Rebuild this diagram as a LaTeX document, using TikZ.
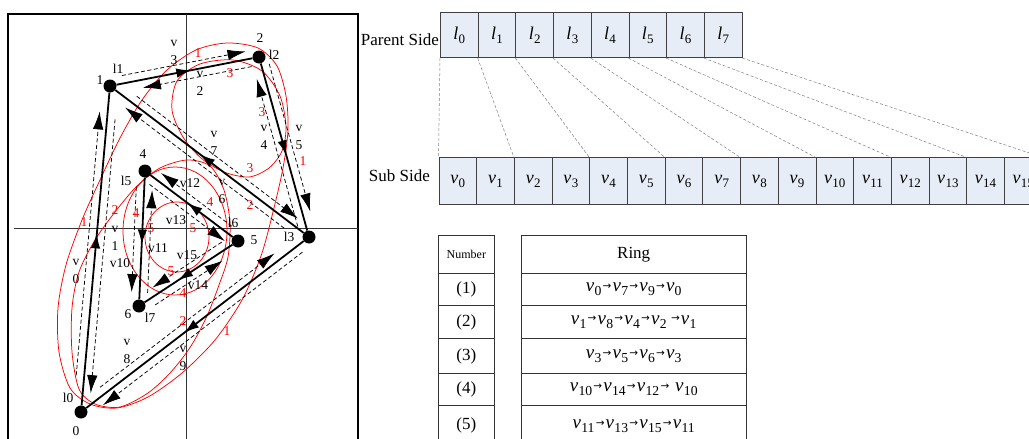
\documentclass[tikz,border=0pt]{standalone}
\usepackage{fontspec}
\setmainfont{Liberation Serif}
\newfontfamily\arrfont{DejaVu Sans}
\usetikzlibrary{calc,arrows.meta,decorations.markings}

\definecolor{boxfill}{RGB}{231,237,246}

% italic letter with a small lowered index
\newcommand\idx[2]{\textit{#1}\kern0.3pt\raisebox{-0.5ex}{\scalebox{0.72}{#2}}}
% small arrow between ring members
\newcommand\ringto{\kern1.2pt\raisebox{0.25ex}{\arrfont\scalebox{0.55}{→}}\kern1.2pt}
% dashed directed arc drawn beside an edge: src, dst, start fraction, end fraction, side angle
\newcommand\darc[5]{\draw[halfarc] ($(#1)!#3!(#2)!8pt!#5:(#2)$) -- ($(#1)!#4!(#2)!8pt!#5:(#2)$);}

\tikzset{
  bigtip/.tip={Latex[length=18pt,width=10.5pt]},
  midtip/.tip={Latex[length=15pt,width=9.5pt]},
  dot/.style={circle,fill=black,inner sep=0pt,minimum size=13pt},
  link/.style={line width=1.8pt, postaction={decorate},
    decoration={markings, mark=at position #1 with {\arrow{midtip}}}},
  link/.default=0.55,
  halfarc/.style={line width=0.75pt, dash pattern=on 4pt off 2.5pt, -bigtip},
  lbl/.style={font=\fontsize{13.5}{18}\selectfont, inner sep=0pt, align=center},
  rlbl/.style={lbl, text=red},
  ringc/.style={red, line width=0.75pt},
  pbox/.style={draw=black!75, fill=boxfill, line width=0.8pt, minimum width=37.7pt,
    minimum height=45.6pt, anchor=north west, inner sep=0pt, font=\fontsize{18}{20}\selectfont},
  sbox/.style={pbox, minimum height=46.7pt},
  guide/.style={black!50, line width=0.5pt, dash pattern=on 3pt off 2pt},
  cell/.style={draw=black!80, line width=0.7pt, anchor=north west, inner sep=0pt},
  side/.style={font=\fontsize{17}{20}\selectfont, inner sep=0pt},
  ringtext/.style={font=\fontsize{19}{22}\selectfont},
}

\begin{document}
\begin{tikzpicture}[x=1pt,y=-1pt]
\useasboundingbox (0,0) rectangle (1029,439);
\fill[white] (0,0) rectangle (1029,439);
\clip (0,0) rectangle (1029,439);

% ---------- left panel: frame and axes ----------
\draw[line width=2.6pt] (8,450) |- (358,14) -- (358,450);
\draw[line width=0.9pt, black!80] (186.7,14) -- (186.7,450);
\draw[line width=0.9pt, black!80] (14,228.5) -- (358,228.5);

% ---------- rings ----------
\draw[ringc] plot[smooth cycle] coordinates {(227,43) (258,48) (277,66) (286,96) (288,130) (283,168) (273,212) (261,256) (242,300) (215,340) (182,373) (148,397) (117,408) (90,404) (70,388) (59,352) (58,308) (66,265) (82,220) (100,180) (120,138) (142,100) (167,70) (196,50)};
\draw[ringc] plot[smooth cycle] coordinates {(187,160) (210,166) (224,190) (230,223) (228,257) (219,285) (207,316) (191,346) (171,372) (148,393) (120,407) (95,404) (79,389) (72,352) (72,308) (79,272) (95,240) (115,212) (137,186) (160,168)};
\draw[ringc] plot[smooth cycle] coordinates {(233,60) (262,71) (280,96) (286,127) (282,151) (269,168) (249,177) (224,172) (201,158) (183,137) (172,110) (177,81) (200,64)};
\draw[ringc] (175,231) ellipse [x radius=52pt, y radius=64pt];
\draw[ringc] (177,237) ellipse [x radius=32pt, y radius=35pt];

% ---------- vertices ----------
\node[dot] (n0) at (81,412) {};
\node[dot] (n1) at (110,86) {};
\node[dot] (n2) at (259,57) {};
\node[dot] (n3) at (309,237) {};
\node[dot] (n4) at (145,171) {};
\node[dot] (n5) at (238,241) {};
\node[dot] (n6) at (139,306) {};

% ---------- directed arcs beside the edges ----------
\darc{n0}{n1}{0.11}{0.92}{90}
\darc{n1}{n0}{0.10}{0.94}{90}
\darc{n2}{n1}{0.06}{0.79}{90}
\darc{n1}{n2}{0.09}{0.92}{90}
\darc{n3}{n2}{0.07}{0.89}{90}
\darc{n2}{n3}{0.05}{0.87}{90}
\darc{n3}{n1}{0.10}{0.90}{90}
\darc{n1}{n3}{0.11}{0.92}{90}
\darc{n0}{n3}{0.105}{0.87}{90}
\darc{n3}{n0}{0.05}{0.925}{90}
\darc{n4}{n6}{0.12}{0.90}{-90}
\darc{n6}{n4}{0.10}{0.86}{-90}
\darc{n5}{n4}{0.12}{0.88}{-90}
\darc{n4}{n5}{0.10}{0.91}{-90}
\darc{n6}{n5}{0.12}{0.80}{-90}
\darc{n5}{n6}{0.12}{0.82}{-90}

% ---------- edges ----------
\draw[link] (n0) -- (n1);
\draw[link] (n1) -- (n2);
\draw[link] (n2) -- (n3);
\draw[link] (n3) -- (n1);
\draw[link] (n3) -- (n0);
\draw[link] (n4) -- (n6);
\draw[link=0.62] (n5) -- (n6);
\draw[link] (n5) -- (n4);

% ---------- vertex labels ----------
\node[lbl] (t0)  at (76,431) {0};
\node[lbl] (tl0) at (68,398) {l0};
\node[lbl] (t1)  at (100,80) {1};
\node[lbl] (tl1) at (118,69) {l1};
\node[lbl] (t2)  at (260,38) {2};
\node[lbl] (tl2) at (274,55) {l2};
\node[lbl] (tl3) at (289,237) {l3};
\node[lbl] (t4)  at (143,154) {4};
\node[lbl] (tl5) at (126,181) {l5};
\node[lbl] (t5)  at (254,240) {5};
\node[lbl] (tl6) at (233,223) {l6};
\node[lbl] (t6)  at (128,314) {6};
\node[lbl] (tl7) at (150,318) {l7};

% ---------- arc labels ----------
\node[lbl] (v0)  at (76,271)  {v\\0};
\node[lbl] (v1)  at (115,238) {v\\1};
\node[lbl] (v2)  at (200,83)  {v\\2};
\node[lbl] (v3)  at (174,52)  {v\\3};
\node[lbl] (v4)  at (264,137) {v\\4};
\node[lbl] (v5)  at (299,137) {v\\5};
\node[lbl] (v6)  at (222,191) {v\\6};
\node[lbl] (v7)  at (214,143) {v\\7};
\node[lbl] (v8)  at (127,351) {v\\8};
\node[lbl] (v9)  at (183,358) {v\\9};
\node[lbl] (v10) at (120,263) {v10};
\node[lbl] (v11) at (158,248) {v11};
\node[lbl] (v12) at (190,183) {v12};
\node[lbl] (v13) at (176,220) {v13};
\node[lbl] (v14) at (198,285) {v14};
\node[lbl] (v15) at (187,255) {v15};

% ---------- ring numbers ----------
\node[rlbl] (ra1) at (198,53)  {1};
\node[rlbl] (ra2) at (303,161) {1};
\node[rlbl] (ra3) at (227,331) {1};
\node[rlbl] (ra4) at (84,222)  {1};
\node[rlbl] (rb1) at (115,210) {2};
\node[rlbl] (rb2) at (250,205) {2};
\node[rlbl] (rb3) at (183,321) {2};
\node[rlbl] (rc1) at (230,73)  {3};
\node[rlbl] (rc2) at (262,112) {3};
\node[rlbl] (rc3) at (250,168) {3};
\node[rlbl] (rd1) at (136,213) {4};
\node[rlbl] (rd2) at (210,202) {4};
\node[rlbl] (rd3) at (183,293) {4};
\node[rlbl] (re1) at (151,228) {5};
\node[rlbl] (re2) at (193,228) {5};
\node[rlbl] (re3) at (171,271) {5};

% ---------- parent side / sub side ----------
\node[side, anchor=east] (ptitle) at (439,40) {Parent Side};
\node[side, anchor=east] (stitle) at (430,176) {Sub Side};
\foreach \i in {0,...,7}
  \node[pbox] (p\i) at ({440+37.7*\i},11.7) {\idx{l}{\i}};
\foreach \j in {0,...,15}
  \node[sbox] (s\j) at ({438.5+37.7*\j},157.3) {\idx{v}{\j}};
\foreach \i in {0,...,7} {
  \pgfmathtruncatemacro\j{2*\i}
  \draw[guide] (p\i.south west) -- (s\j.north west);
}
\draw[guide] (p7.south east) -- (s15.north east);

% ---------- ring table ----------
\node[cell, minimum width=56.6pt, minimum height=38.3pt, font=\fontsize{12}{14}\selectfont] (h0) at (437.7,235) {Number};
\node[cell, minimum width=224.7pt, minimum height=38.3pt, font=\fontsize{17}{20}\selectfont] (h1) at (521,235) {Ring};
\node[cell, minimum width=56.6pt, minimum height=31.7pt, font=\fontsize{17}{20}\selectfont] (c1) at (437.7,273.3) {(1)};
\node[cell, minimum width=56.6pt, minimum height=33.3pt, font=\fontsize{17}{20}\selectfont] (c2) at (437.7,305) {(2)};
\node[cell, minimum width=56.6pt, minimum height=35pt, font=\fontsize{17}{20}\selectfont] (c3) at (437.7,338.3) {(3)};
\node[cell, minimum width=56.6pt, minimum height=31.7pt, font=\fontsize{17}{20}\selectfont] (c4) at (437.7,373.3) {(4)};
\node[cell, minimum width=56.6pt, minimum height=42pt, font=\fontsize{17}{20}\selectfont] (c5) at (437.7,405) {\raisebox{5pt}{(5)}};
\node[cell, ringtext, minimum width=224.7pt, minimum height=31.7pt] (r1) at (521,273.3)
  {\idx{v}{0}\ringto\idx{v}{7}\ringto\idx{v}{9}\ringto\idx{v}{0}};
\node[cell, ringtext, minimum width=224.7pt, minimum height=33.3pt] (r2) at (521,305)
  {\idx{v}{1}\ringto\idx{v}{8}\ringto\idx{v}{4}\ringto\idx{v}{2}\,\ringto\idx{v}{1}};
\node[cell, ringtext, minimum width=224.7pt, minimum height=35pt] (r3) at (521,338.3)
  {\idx{v}{3}\ringto\idx{v}{5}\ringto\idx{v}{6}\ringto\idx{v}{3}};
\node[cell, ringtext, minimum width=224.7pt, minimum height=31.7pt] (r4) at (521,373.3)
  {\idx{v}{10}\ringto\idx{v}{14}\ringto\idx{v}{12}\ringto\ \idx{v}{10}};
\node[cell, ringtext, minimum width=224.7pt, minimum height=42pt] (r5) at (521,405)
  {\raisebox{5pt}{\idx{v}{11}\ringto\idx{v}{13}\ringto\idx{v}{15}\ringto\idx{v}{11}}};
\end{tikzpicture}
\end{document}
